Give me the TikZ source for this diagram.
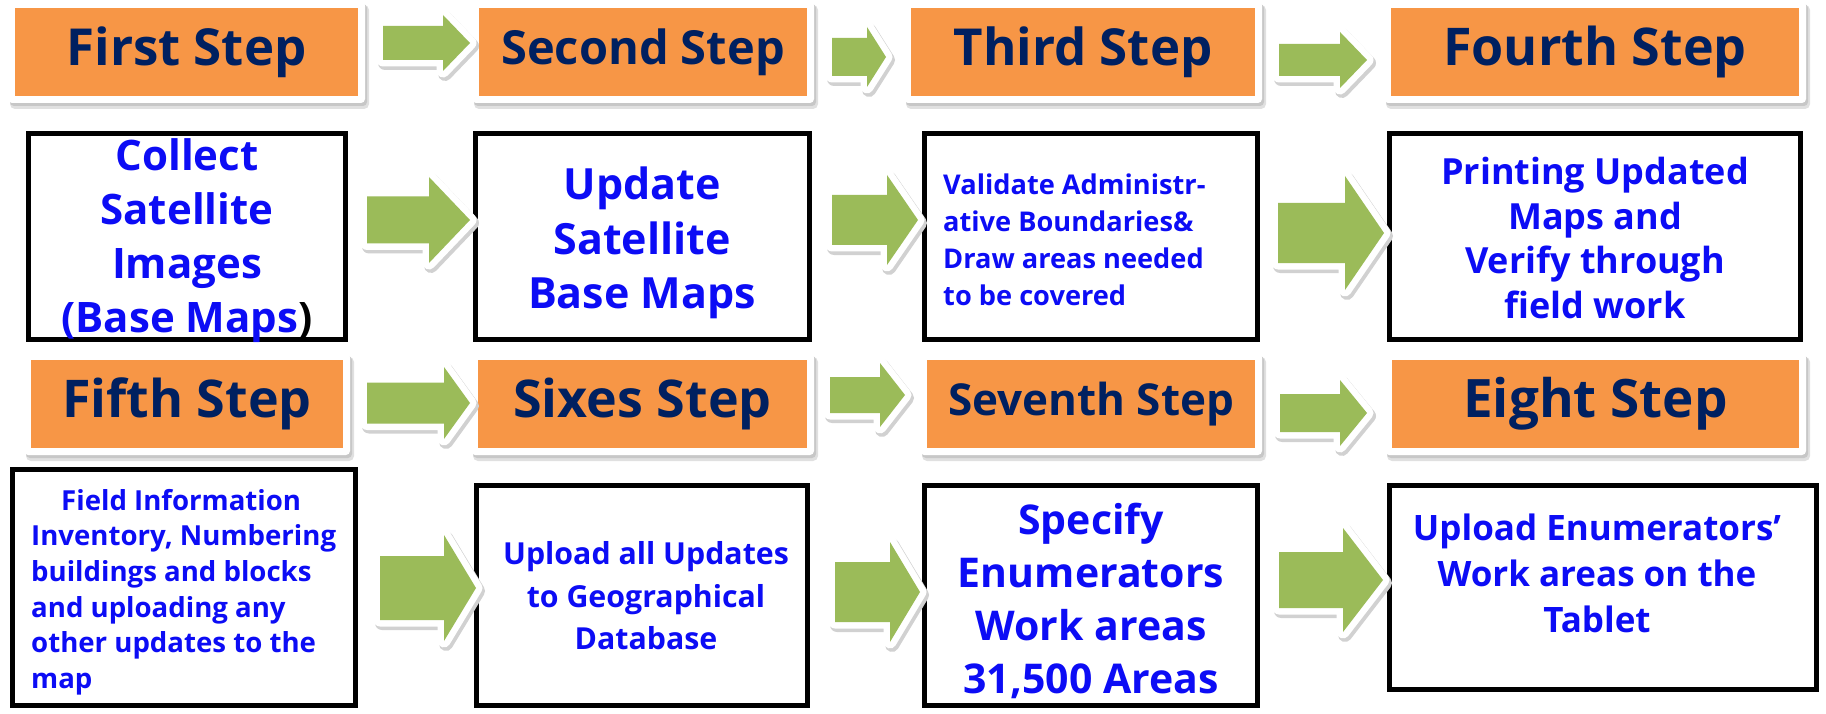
\documentclass[tikz,border=0pt]{standalone}
\usepackage{fontspec}
\setmainfont{Open Sans}[BoldFont={Open Sans Bold}]
\definecolor{orng}{RGB}{247,150,70}
\definecolor{navy}{RGB}{0,32,96}
\definecolor{grn}{RGB}{155,187,89}
\definecolor{blu}{RGB}{12,12,245}
\tikzset{
  hdrbox/.style={fill=orng, text=navy, inner sep=0pt},
  cbox/.style={draw=black, line width=5pt, fill=white, inner sep=0pt},
  ctext/.style={text=blu, inner sep=0pt},
}
% name x1 y1 x2 y2 fontsize text
\newcommand{\Hdr}[7]{%
  \fill[black!12, rounded corners=5pt] ({#2-8+3},{#3-8+5}) rectangle ({#4+8+3},{#5+8+5});
  \fill[black!22, rounded corners=4pt] ({#2-7+2},{#3-7+3}) rectangle ({#4+7+2},{#5+7+3});
  \fill[white, rounded corners=4pt] ({#2-7},{#3-7}) rectangle ({#4+7},{#5+7});
  \node[hdrbox, minimum width={(#4-#2)*1pt}, minimum height={(#5-#3)*1pt},
        font={\bfseries\fontsize{#6}{#6}\selectfont}] (#1) at ({(#2+#4)/2},{(#3+#5)/2}) {#7};
}
% name x1 y1 x2 y2 (outer edges)
\newcommand{\CBox}[5]{%
  \node[cbox, minimum width={(#4-#2-5)*1pt}, minimum height={(#5-#3-5)*1pt}] (#1) at ({(#2+#4)/2},{(#3+#5)/2}) {};
}
% name x0 xh xt yc bh hh
\newcommand{\Arr}[7]{%
  \path[fill=black!18, draw=black!18, line width=14pt, line join=round, shift={(2,3)}]
    (#2,{#5-#6}) -- (#3,{#5-#6}) -- (#3,{#5-#7}) -- (#4,#5) -- (#3,{#5+#7}) -- (#3,{#5+#6}) -- (#2,{#5+#6}) -- cycle;
  \path[fill=white, draw=white, line width=13pt, line join=round]
    (#2,{#5-#6}) -- (#3,{#5-#6}) -- (#3,{#5-#7}) -- (#4,#5) -- (#3,{#5+#7}) -- (#3,{#5+#6}) -- (#2,{#5+#6}) -- cycle;
  \fill[grn]
    (#2,{#5-#6}) -- (#3,{#5-#6}) -- (#3,{#5-#7}) -- (#4,#5) -- (#3,{#5+#7}) -- (#3,{#5+#6}) -- (#2,{#5+#6}) -- cycle;
  \coordinate (#1) at (#4,#5);
}
\begin{document}
\begin{tikzpicture}[x=1pt, y=-1pt]
\useasboundingbox (0,0) rectangle (1826,714);
\fill[white] (0,0) rectangle (1826,714);

% headers
\Hdr{h1}{15}{8}{358}{96}{51}{First Step}
\Hdr{h2}{479}{8}{807}{96}{47}{Second Step}
\Hdr{h3}{911}{8}{1255}{96}{51}{Third Step}
\Hdr{h4}{1391}{8}{1799}{96}{52}{Fourth Step}
\Hdr{h5}{31}{360}{343}{448}{52}{Fifth Step}
\Hdr{h6}{478}{360}{807}{448}{52}{Sixes Step}
\Hdr{h7}{927}{360}{1255}{448}{44}{Seventh Step}
\Hdr{h8}{1392}{360}{1799}{448}{53}{Eight Step}

% content boxes
\CBox{b1}{26}{131}{348}{342}
\CBox{b2}{473}{131}{812}{342}
\CBox{b3}{922}{131}{1260}{342}
\CBox{b4}{1387}{131}{1803}{342}
\CBox{b5}{10}{467}{358}{708}
\CBox{b6}{474}{483}{810}{708}
\CBox{b7}{922}{483}{1260}{708}
\CBox{b8}{1387}{483}{1819}{692}

% texts
\node[ctext, align=center, font={\bfseries\fontsize{42}{54}\selectfont}] (t1) at (187,241)
  {Collect\\Satellite\\Images\\(Base Maps\textcolor{black}{)}};
\node[ctext, align=center, font={\bfseries\fontsize{43}{54.5}\selectfont}] (t2) at (642,243)
  {Update\\Satellite\\Base Maps};
\node[ctext, align=left, anchor=west, font={\bfseries\fontsize{27.2}{37}\selectfont}] (t3) at (943,239.5)
  {Validate Administr-\\ative Boundaries\&\\Draw areas needed\\to be covered};
\node[ctext, align=center, font={\bfseries\fontsize{36}{44.7}\selectfont}] (t4) at (1595,238)
  {Printing Updated\\Maps and\\Verify through\\field work};
\node[ctext, align=left, anchor=west, font={\bfseries\fontsize{27.6}{35.6}\selectfont}] (t5) at (31,592)
  {\hspace*{30pt}Field Information\\Inventory, Numbering\\buildings and blocks\\and uploading any\\other updates to the\\map};
\node[ctext, align=center, font={\bfseries\fontsize{30.3}{42.5}\selectfont}] (t6) at (646,596)
  {Upload all Updates\\to Geographical\\Database};
\node[ctext, align=center, font={\bfseries\fontsize{41}{53}\selectfont}] (t7) at (1091,601)
  {Specify\\Enumerators\\Work areas\\31,500 Areas};
\node[ctext, align=center, font={\bfseries\fontsize{35}{46}\selectfont}] (t8) at (1597,573)
  {Upload Enumerators’\\Work areas on the\\Tablet};

% arrows
\Arr{a1}{383}{443}{470}{43}{17}{28}
\Arr{a2}{832}{867}{886}{57}{19}{30}
\Arr{a3}{1279}{1340}{1367}{60}{16}{28}
\Arr{a4}{367}{429}{470}{220}{23.5}{43}
\Arr{a5}{832}{887}{918}{220}{25}{45}
\Arr{a6}{1278}{1345}{1384}{233}{30}{57}
\Arr{a7}{367}{444}{470}{403}{20.5}{36}
\Arr{a8}{830}{880}{905}{395}{18}{32}
\Arr{a9}{1280}{1340}{1367}{413}{19}{33}
\Arr{a10}{380}{444}{476}{588}{32}{53}
\Arr{a11}{835}{890}{920}{592}{30}{50}
\Arr{a12}{1279}{1343}{1383}{580}{28}{52}
\end{tikzpicture}
\end{document}
